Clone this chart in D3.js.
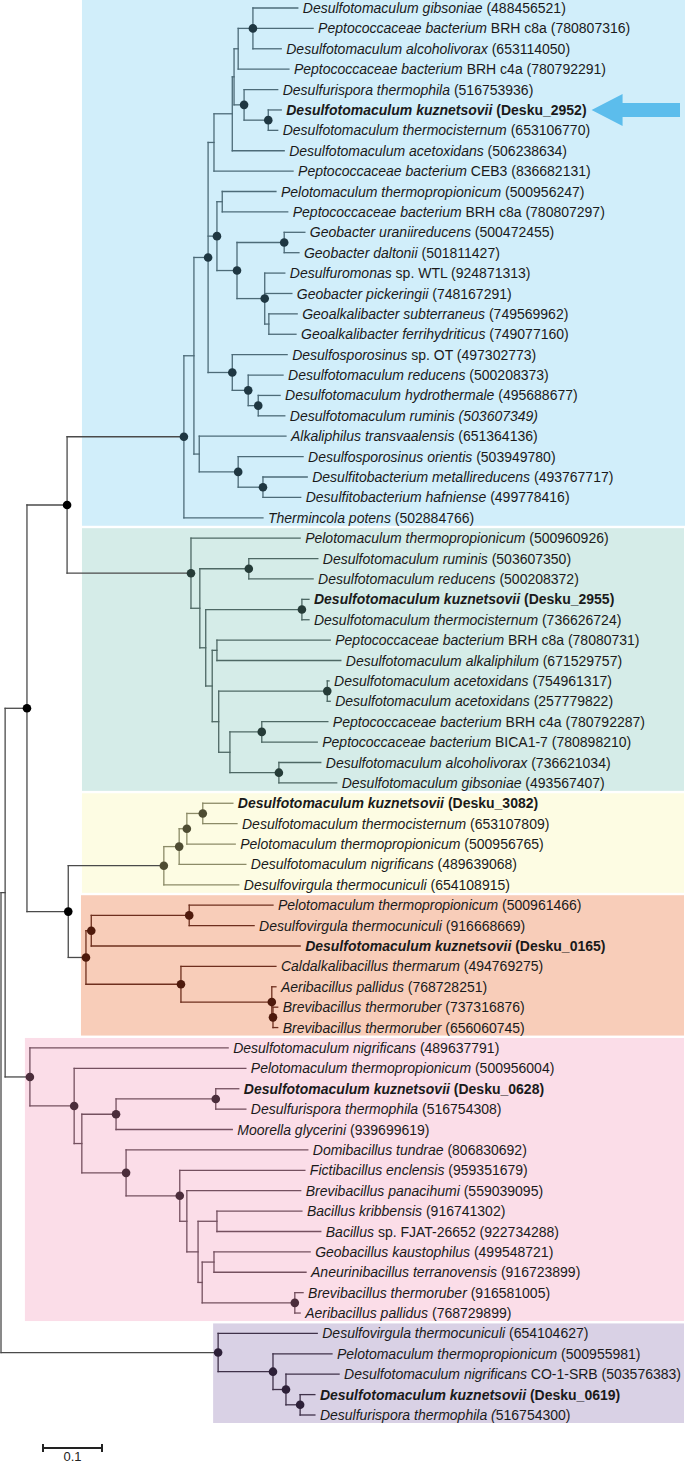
<!DOCTYPE html>
<html><head><meta charset="utf-8">
<script src="https://cdn.jsdelivr.net/npm/d3@7"></script>
<style>
html,body{margin:0;padding:0;background:#fff;}
svg{display:block;}
text{font-family:"Liberation Sans",Arial,Helvetica,sans-serif;white-space:pre;}
</style></head><body>
<svg id="chart" width="685" height="1466"></svg>
<script>
// ---------- DATA ----------
const leafItalic = [
"Desulfotomaculum gibsoniae","Peptococcaceae bacterium","Desulfotomaculum alcoholivorax","Peptococcaceae bacterium",
"Desulfurispora thermophila","Desulfotomaculum kuznetsovii","Desulfotomaculum thermocisternum","Desulfotomaculum acetoxidans",
"Peptococcaceae bacterium","Pelotomaculum thermopropionicum","Peptococcaceae bacterium","Geobacter uraniireducens",
"Geobacter daltonii","Desulfuromonas","Geobacter pickeringii","Geoalkalibacter subterraneus",
"Geoalkalibacter ferrihydriticus","Desulfosporosinus","Desulfotomaculum reducens","Desulfotomaculum hydrothermale",
"Desulfotomaculum ruminis (503607349)","Alkaliphilus transvaalensis","Desulfosporosinus orientis","Desulfitobacterium metallireducens",
"Desulfitobacterium hafniense","Thermincola potens",
"Pelotomaculum thermopropionicum","Desulfotomaculum ruminis","Desulfotomaculum reducens","Desulfotomaculum kuznetsovii",
"Desulfotomaculum thermocisternum","Peptococcaceae bacterium","Desulfotomaculum alkaliphilum","Desulfotomaculum acetoxidans",
"Desulfotomaculum acetoxidans","Peptococcaceae bacterium","Peptococcaceae bacterium","Desulfotomaculum alcoholivorax",
"Desulfotomaculum gibsoniae",
"Desulfotomaculum kuznetsovii","Desulfotomaculum thermocisternum","Pelotomaculum thermopropionicum","Desulfotomaculum nigrificans",
"Desulfovirgula thermocuniculi",
"Pelotomaculum thermopropionicum","Desulfovirgula thermocuniculi","Desulfotomaculum kuznetsovii","Caldalkalibacillus thermarum",
"Aeribacillus pallidus","Brevibacillus thermoruber","Brevibacillus thermoruber",
"Desulfotomaculum nigrificans","Pelotomaculum thermopropionicum","Desulfotomaculum kuznetsovii","Desulfurispora thermophila",
"Moorella glycerini","Domibacillus tundrae","Fictibacillus enclensis","Brevibacillus panacihumi",
"Bacillus kribbensis","Bacillus","Geobacillus kaustophilus","Aneurinibacillus terranovensis",
"Brevibacillus thermoruber","Aeribacillus pallidus",
"Desulfovirgula thermocuniculi","Pelotomaculum thermopropionicum","Desulfotomaculum nigrificans","Desulfotomaculum kuznetsovii",
"Desulfurispora thermophila ("
];
const leafPlain = [
" (488456521)"," BRH c8a (780807316)"," (653114050)"," BRH c4a (780792291)",
" (516753936)"," (Desku_2952)"," (653106770)"," (506238634)",
" CEB3 (836682131)"," (500956247)"," BRH c8a (780807297)"," (500472455)",
" (501811427)"," sp. WTL (924871313)"," (748167291)"," (749569962)",
" (749077160)"," sp. OT (497302773)"," (500208373)"," (495688677)",
""," (651364136)"," (503949780)"," (493767717)",
" (499778416)"," (502884766)",
" (500960926)"," (503607350)"," (500208372)"," (Desku_2955)",
" (736626724)"," BRH c8a (78080731)"," (671529757)"," (754961317)",
" (257779822)"," BRH c4a (780792287)"," BICA1-7 (780898210)"," (736621034)",
" (493567407)",
" (Desku_3082)"," (653107809)"," (500956765)"," (489639068)",
" (654108915)",
" (500961466)"," (916668669)"," (Desku_0165)"," (494769275)",
" (768728251)"," (737316876)"," (656060745)",
" (489637791)"," (500956004)"," (Desku_0628)"," (516754308)",
" (939699619)"," (806830692)"," (959351679)"," (559039095)",
" (916741302)"," sp. FJAT-26652 (922734288)"," (499548721)"," (916723899)",
" (916581005)"," (768729899)",
" (654104627)"," (500955981)"," CO-1-SRB (503576383)"," (Desku_0619)",
"516754300)"
];
const boldLeaves = [5, 29, 39, 46, 53, 68];
const highlightedLeaf = 5;

// distance from root (substitutions/site) at each leaf
const leafDepth = [
0.503,0.529,0.475,0.488,0.469,0.475,0.469,0.480,0.495,0.466,0.486,0.515,0.505,0.481,0.493,0.502,0.500,0.485,0.478,0.473,0.481,0.483,0.512,0.519,0.508,0.444,
0.507,0.537,0.529,0.522,0.522,0.558,0.576,0.556,0.558,0.554,0.536,0.542,0.569,
0.393,0.400,0.397,0.415,0.403,
0.461,0.429,0.507,0.466,0.466,0.469,0.469,
0.385,0.415,0.403,0.415,0.392,0.520,0.515,0.508,0.510,0.542,0.524,0.517,0.512,0.507,
0.536,0.561,0.573,0.532,0.532
];

// internal nodes: id, children (L# = leaf index), distance from root, support dot
const nodeIds = ["root","R2","A","B","C",
"Nb","N1","N2","Nu","N3","N7","N4","Npoly","N5","N8","N217","Npel","Ngeo","Ngd","Ngp","Ngk","Nlow","N9","N10","Nalk","Ndes","Ndh",
"Nt","Nt2","Nru","Nt3","Nku2","Nt4","Nal","Nt5","Nac","N230","Nbr","Ngib",
"Ny","Ny2","Ny3","Ny4",
"No","No1","Np","No2","Nbrev","Nbrev2",
"Np0","Np1","Np2","Nmo","Nku3","Ndom","Nfic","N186","N198","Nbk","N202","Ngk2","Nbt",
"Npu","Npu2","Npu3","Npu4"];
const nodeChildren = [
["R2","Npu"],["A","Np0"],["B","C"],["Nb","Nt"],["Ny","No"],
["N1","L25"],["N2","Nalk"],["Nu","N217","Nlow"],["N3","L8"],["N7","L7"],["N4","N5"],["Npoly","L3"],["L0","L1","L2"],["L4","N8"],["L5","L6"],
["Npel","Ngeo"],["L9","L10"],["Ngd","Ngp"],["L11","L12"],["L13","L14","Ngk"],["L15","L16"],["L17","N9"],["L18","N10"],["L19","L20"],
["L21","Ndes"],["L22","Ndh"],["L23","L24"],
["L26","Nt2"],["Nru","Nt3"],["L27","L28"],["Nku2","Nt4"],["L29","L30"],["Nal","Nt5"],["L31","L32"],["Nac","N230"],["L33","L34"],["Nbr","Ngib"],["L35","L36"],["L37","L38"],
["Ny2","L43"],["Ny3","L42"],["Ny4","L41"],["L39","L40"],
["No1","No2"],["Np","L46"],["L44","L45"],["L47","Nbrev"],["L48","Nbrev2"],["L49","L50"],
["L51","Np1"],["L52","Np2"],["Nmo","Ndom"],["Nku3","L55"],["L53","L54"],["L56","Nfic"],["L57","N186"],["L58","N198"],["Nbk","N202"],["L59","L60"],["Ngk2","Nbt"],["L61","L62"],["L63","L64"],
["L65","Npu2"],["L66","Npu3"],["L67","Npu4"],["L68","L69"]
];
const nodeDepth = [0,0.007,0.044,0.112,0.114,
0.310,0.327,0.351,0.361,0.392,0.395,0.402,0.427,0.412,0.453,0.366,0.375,0.400,0.480,0.447,0.454,0.392,0.419,0.436,0.336,0.402,0.444,
0.322,0.337,0.420,0.347,0.510,0.358,0.366,0.369,0.553,0.388,0.442,0.471,
0.276,0.302,0.315,0.342,
0.144,0.153,0.319,0.305,0.459,0.461,
0.049,0.124,0.137,0.195,0.364,0.212,0.303,0.315,0.334,0.366,0.341,0.361,0.498,
0.368,0.461,0.483,0.507];
const nodesWithoutDot = ["root","R2","N1","Nu","N3","N7","N4","Npel","Ngk","Nalk",
"Nt2","Nt3","Nt4","Nal","Nt5","N230","Np2","N186","N198","Nbk","N202","Ngk2"];

const cladeRoots = ["Nb","Nt","Ny","No","Np0","Npu"];
// boxes of the first three clades share the left edge of the orange box
const cladeBoxAtNode = [false,false,false,true,true,true];
const cladeFill = ["#d1eefa","#d5ece8","#fdfce3","#f8cdb9","#fbdde8","#d9d1e5"];
const cladeLine = ["#4d6b78","#4e6864","#8c8b68","#6e2f1e","#74505f","#3f3149"];
const cladeDot  = ["#1f3742","#263c38","#4e4c33","#4f1a0c","#4b2d3b","#2d2038"];
const backboneLine = "#4a4a4a", backboneDot = "#000000";
const scaleBarValue = 0.1;
const scaleBarLabel = "0.1";

// ---------- BUILD ----------
function build(id){
  if (id[0] === "L") { const i = +id.slice(1); return {id, leaf:i, depth:leafDepth[i]}; }
  const k = nodeIds.indexOf(id);
  return {id, depth:nodeDepth[k], dot:!nodesWithoutDot.includes(id), children:nodeChildren[k].map(build)};
}
const root = d3.hierarchy(build("root"));
const nLeaves = leafDepth.length;
const x = d3.scaleLinear().domain([0,1]).range([1,591]);
const y = d3.scaleLinear().domain([0,nLeaves-1]).range([8,1415]);

root.eachAfter(n => {
  n.px = x(n.data.depth);
  if (!n.children) n.py = y(n.data.leaf);
  else n.py = (n.children[0].py + n.children[n.children.length-1].py)/2;
});
root.eachBefore(n => {
  const ci = cladeRoots.indexOf(n.data.id);
  n.clade = ci >= 0 ? ci : (n.parent ? n.parent.clade : -1);
});
const lineCol = c => c < 0 ? backboneLine : cladeLine[c];
const dotCol = c => c < 0 ? backboneDot : cladeDot[c];

const svg = d3.select("#chart");

// clade boxes
const cladeNodes = cladeRoots.map(id => root.descendants().find(d => d.data.id === id));
const sharedLeft = cladeNodes[3].px - 4;
const boxes = cladeNodes.map((n,i) => {
  const lv = n.leaves().map(l => l.data.leaf);
  const top = Math.max(0, y(d3.min(lv)) - 10);
  const bottom = y(d3.max(lv)) + 8;
  const left = cladeBoxAtNode[i] ? n.px - 5 : sharedLeft;
  return {i, top, bottom, left, right: i === 0 ? 685 : 684};
});
svg.append("g").selectAll("rect").data(boxes).join("rect")
  .attr("x", d => d.left).attr("y", d => d.top)
  .attr("width", d => d.right - d.left).attr("height", d => d.bottom - d.top)
  .attr("fill", d => cladeFill[d.i]);

// branches
const gl = svg.append("g").attr("fill","none").attr("stroke-width",1.3).attr("stroke-linecap","square");
gl.selectAll("line.h").data(root.descendants().filter(d => d.parent)).join("line")
  .attr("x1", d => d.parent.px).attr("x2", d => d.px)
  .attr("y1", d => d.py).attr("y2", d => d.py)
  .attr("stroke", d => lineCol(d.parent.clade));
gl.selectAll("line.v").data(root.descendants().filter(d => d.children)).join("line")
  .attr("x1", d => d.px).attr("x2", d => d.px)
  .attr("y1", d => d.children[0].py).attr("y2", d => d.children[d.children.length-1].py)
  .attr("stroke", d => lineCol(d.clade));

// support dots
svg.append("g").selectAll("circle").data(root.descendants().filter(d => d.children && d.data.dot)).join("circle")
  .attr("cx", d => d.px).attr("cy", d => d.py).attr("r", 4.3)
  .attr("fill", d => dotCol(d.clade));

// labels
const labels = svg.append("g").attr("font-size", 14).attr("fill", "#1a1a1a")
  .selectAll("text").data(root.leaves()).join("text")
  .attr("x", d => d.px + 5).attr("y", d => d.py).attr("dy", "0.36em")
  .attr("font-weight", d => boldLeaves.includes(d.data.leaf) ? "bold" : null);
labels.append("tspan").attr("font-style","italic").text(d => leafItalic[d.data.leaf]);
labels.append("tspan").text(d => leafPlain[d.data.leaf]);

// highlight arrow
const hl = labels.filter(d => d.data.leaf === highlightedLeaf);
const hn = hl.datum();
const tipX = hn.px + 5 + hl.node().getComputedTextLength() + 5;
const ty = hn.py;
svg.append("path")
  .attr("d", `M${tipX},${ty} L${tipX+31},${ty-16} L${tipX+31},${ty-7} L680,${ty-7} L680,${ty+7} L${tipX+31},${ty+7} L${tipX+31},${ty+16} Z`)
  .attr("fill", "#5cbdec");

// scale bar
const sbX = 43, sbY = 1448;
const sbW = x(scaleBarValue) - x(0);
const sb = svg.append("g").attr("stroke","#222").attr("stroke-width",2);
sb.append("line").attr("x1",sbX).attr("x2",sbX+sbW).attr("y1",sbY).attr("y2",sbY);
sb.append("line").attr("x1",sbX).attr("x2",sbX).attr("y1",sbY-4).attr("y2",sbY+4);
sb.append("line").attr("x1",sbX+sbW).attr("x2",sbX+sbW).attr("y1",sbY-4).attr("y2",sbY+4);
svg.append("text").attr("x", sbX + sbW/2).attr("y", sbY + 13).attr("text-anchor","middle")
  .attr("font-size",13).attr("fill","#222").text(scaleBarLabel);
</script>
</body></html>
